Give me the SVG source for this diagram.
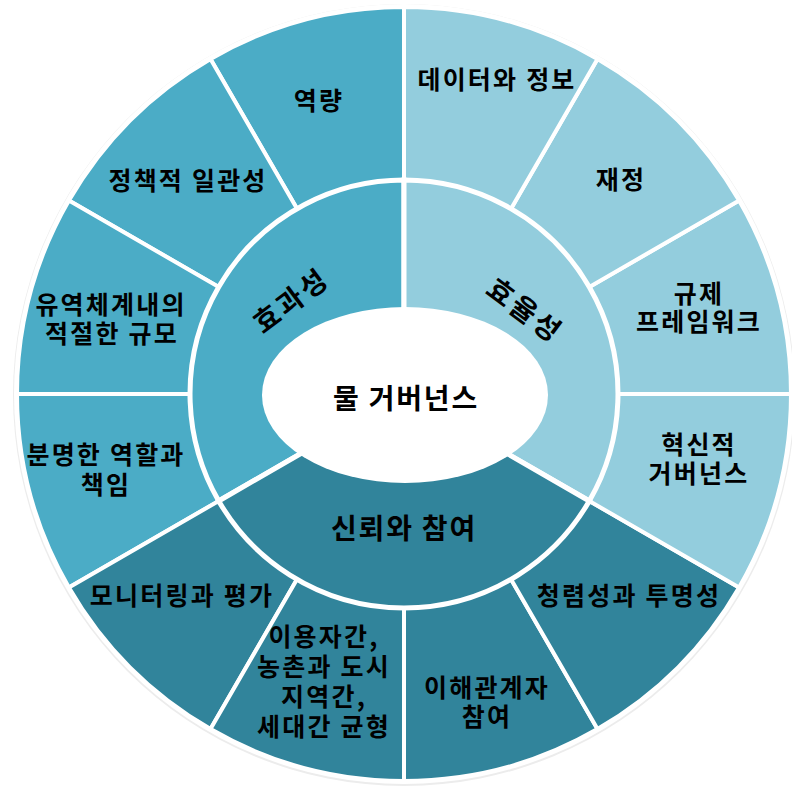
<svg xmlns="http://www.w3.org/2000/svg" width="792" height="789" viewBox="0 0 792 789">
<style>
.sec{stroke:#fff;stroke-width:4;stroke-linejoin:miter}
.a{fill:#4BACC6}
.b{fill:#93CDDD}
.c{fill:#31849B}
.in{stroke:#fff;stroke-width:5}
text{font-family:"Noto Sans CJK KR","Noto Sans",sans-serif;font-weight:bold;fill:#000;text-anchor:middle;dominant-baseline:central}
.o{font-size:25px;letter-spacing:2.2px}
.m{font-size:28px;letter-spacing:1.8px}
.r{font-size:28px;letter-spacing:3px}
</style>
<rect width="792" height="789" fill="#fff"/>
<circle cx="404" cy="395" r="391" fill="#ececec"/>
<circle cx="404" cy="394" r="390" fill="#fff"/>
<g id="outer-ring">
<g id="n-capacity"><path class="sec a" d="M404 394 L404 7 A387 387 0 0 0 210.5 58.9 Z"/><text class="o" x="319" y="99">역량</text></g>
<g id="n-policy"><path class="sec a" d="M404 394 L210.5 58.9 A387 387 0 0 0 68.9 200.5 Z"/><text class="o" x="188" y="179">정책적 일관성</text></g>
<g id="n-scale"><path class="sec a" d="M404 394 L68.9 200.5 A387 387 0 0 0 17 394 Z"/><text class="o" x="111" y="303">유역체계내의</text><text class="o" x="112" y="332">적절한 규모</text></g>
<g id="n-roles"><path class="sec a" d="M404 394 L17 394 A387 387 0 0 0 68.9 587.5 Z"/><text class="o" x="106" y="453">분명한 역할과</text><text class="o" x="106" y="483">책임</text></g>
<g id="n-monitor"><path class="sec c" d="M404 394 L68.9 587.5 A387 387 0 0 0 210.5 729.1 Z"/><text class="o" x="182" y="594">모니터링과 평가</text></g>
<g id="n-equity"><path class="sec c" d="M404 394 L210.5 729.1 A387 387 0 0 0 404 781 Z"/><text class="o" x="324" y="635">이용자간,</text><text class="o" x="324" y="665">농촌과 도시</text><text class="o" x="324" y="695">지역간,</text><text class="o" x="324" y="725">세대간 균형</text></g>
<g id="n-stake"><path class="sec c" d="M404 394 L404 781 A387 387 0 0 0 597.5 729.1 Z"/><text class="o" x="487" y="686">이해관계자</text><text class="o" x="487" y="715">참여</text></g>
<g id="n-integrity"><path class="sec c" d="M404 394 L597.5 729.1 A387 387 0 0 0 739.1 587.5 Z"/><text class="o" x="629" y="594">청렴성과 투명성</text></g>
<g id="n-innov"><path class="sec b" d="M404 394 L739.1 587.5 A387 387 0 0 0 791 394 Z"/><text class="o" x="699" y="443">혁신적</text><text class="o" x="699" y="472">거버넌스</text></g>
<g id="n-reg"><path class="sec b" d="M404 394 L791 394 A387 387 0 0 0 739.1 200.5 Z"/><text class="o" x="699" y="292">규제</text><text class="o" x="699" y="320">프레임워크</text></g>
<g id="n-finance"><path class="sec b" d="M404 394 L739.1 200.5 A387 387 0 0 0 597.5 58.9 Z"/><text class="o" x="621" y="178">재정</text></g>
<g id="n-data"><path class="sec b" d="M404 394 L597.5 58.9 A387 387 0 0 0 404 7 Z"/><text class="o" x="497" y="78">데이터와 정보</text></g>
</g>
<g id="inner-ring">
<g id="n-effect"><path class="in a" d="M404 394 L404 180 A214 214 0 0 0 218.7 501 Z"/><text class="r" transform="translate(290 299) rotate(-37)">효과성</text></g>
<g id="n-effic"><path class="in b" d="M404 394 L589.3 501 A214 214 0 0 0 404 180 Z"/><text class="r" transform="translate(526 309) rotate(37)">효율성</text></g>
<g id="n-trust"><path class="in c" d="M404 394 L218.7 501 A214 214 0 0 0 589.3 501 Z"/><text class="m" x="404" y="527">신뢰와 참여</text></g>
</g>
<g id="n-center"><ellipse cx="405" cy="395" rx="143" ry="88" fill="#fff"/><text class="m" x="406" y="397">물 거버넌스</text></g>
<g id="connectors"/>
</svg>
